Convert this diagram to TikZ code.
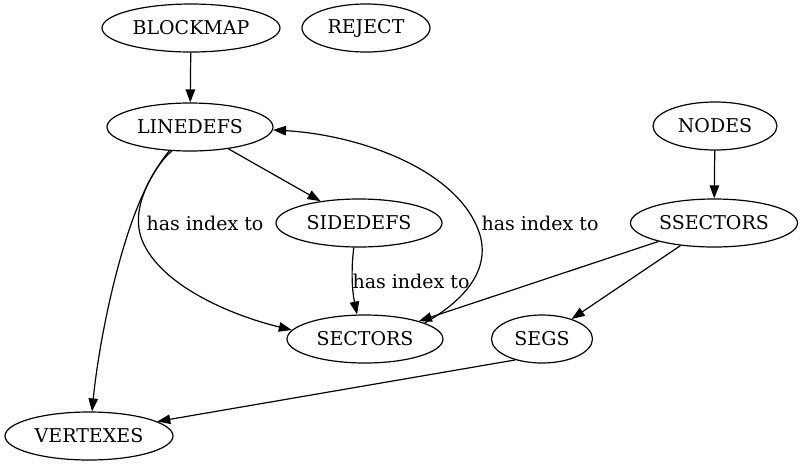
\documentclass[tikz,border=0pt]{standalone}
\usepackage{fontspec}
\setmainfont{DejaVu Serif}
\usetikzlibrary{shapes.geometric,arrows.meta}
\begin{document}
\begin{tikzpicture}[x=1pt,y=-1pt,
  ell/.style={draw, ellipse, line width=1.2pt, minimum height=48pt, inner sep=0pt, font=\fontsize{19}{22}\selectfont},
  lbl/.style={font=\fontsize{19}{22}\selectfont, inner sep=0pt},
  edge/.style={line width=1.2pt, -{Triangle[length=13pt,width=9.5pt]}}]
\useasboundingbox (0,0) rectangle (804,467);
\node[ell, minimum width=178pt] (blockmap) at (191,28) {BLOCKMAP};
\node[ell, minimum width=128pt] (reject) at (366,28) {REJECT};
\node[ell, minimum width=166pt] (linedefs) at (190,127) {LINEDEFS};
\node[ell, minimum width=124pt] (nodes) at (715,126) {NODES};
\node[ell, minimum width=166pt] (sidedefs) at (359,223) {SIDEDEFS};
\node[ell, minimum width=167pt] (ssectors) at (714,223) {SSECTORS};
\node[ell, minimum width=156pt] (sectors) at (365,339) {SECTORS};
\node[ell, minimum width=101pt] (segs) at (542,339) {SEGS};
\node[ell, minimum width=168pt] (vertexes) at (89,436) {VERTEXES};

\node[lbl] (l1) at (205,223) {has index to};
\node[lbl] (l2) at (411,281) {has index to};
\node[lbl] (l3) at (540,223) {has index to};

\draw[edge] (blockmap) -- (linedefs);
\draw[edge] (nodes) -- (ssectors);
\draw[edge] (linedefs) -- (sidedefs);
\draw[edge] (ssectors) -- (sectors);
\draw[edge] (ssectors) -- (segs);
\draw[edge] (segs.218) -- (vertexes.12);
\draw[edge] (sidedefs.258) .. controls (351,270) and (352,290) .. (sectors.108);
\draw[edge] (linedefs.229) .. controls (150,175) and (130,210) .. (142,240)
   .. controls (160,285) and (230,315) .. (sectors.173);
\draw[edge] (linedefs.233) .. controls (130,185) and (100,330) .. (vertexes.83);
\draw[edge] (sectors.15) .. controls (465,300) and (490,270) .. (480,235)
   .. controls (460,170) and (360,135) .. (linedefs.358);
\end{tikzpicture}
\end{document}
